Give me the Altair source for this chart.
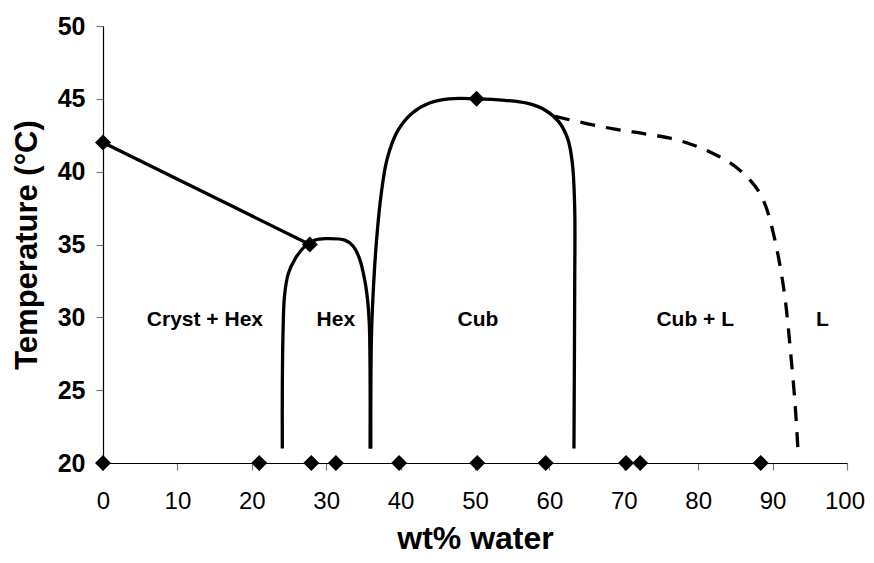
import altair as alt
import pandas as pd

# Straight boundary (Cryst + Hex upper line)
line_x = [0, 27.8]
line_y = [42, 35]

# Hex phase dome
hex_x = [24.1, 24.1, 24.2, 24.4, 24.9, 25.8, 27.0, 28.5, 30.0, 32.5, 33.6, 34.5, 35.2, 35.6, 35.8, 35.9, 35.9]
hex_y = [21.0, 25.0, 29.0, 31.5, 33.0, 34.0, 34.8, 35.3, 35.4, 35.3, 34.9, 34.0, 32.5, 31.0, 29.5, 26.0, 21.0]

# Cub phase dome
cub_x = [36.0, 36.0, 36.1, 36.4, 36.8, 37.4, 38.2, 39.6, 41.5, 43.8, 46.5, 50.2, 54.0, 57.0, 59.5, 61.3, 62.5, 63.1, 63.4, 63.4, 63.3]
cub_y = [21.0, 25.0, 29.0, 32.5, 35.5, 38.5, 40.9, 42.8, 44.0, 44.7, 45.0, 45.0, 44.9, 44.7, 44.2, 43.4, 42.2, 40.5, 37.5, 32.0, 21.0]

# Dashed liquidus boundary
liq_x = [60.75, 65.0, 69.0, 72.8, 76.2, 79.5, 82.2, 84.0, 85.6, 87.0, 88.2, 89.1, 89.8, 90.8, 91.7, 92.4, 93.0, 93.4]
liq_y = [43.8, 43.3, 42.9, 42.6, 42.3, 41.8, 41.2, 40.7, 40.1, 39.4, 38.6, 37.6, 36.4, 34.1, 31.2, 27.7, 24.2, 21.0]

# Measured points (diamonds)
pt_x = [0, 27.8, 50.2, 0, 21.0, 28.0, 31.3, 39.8, 50.3, 59.5, 70.3, 72.2, 88.4]
pt_y = [42, 35, 45, 20, 20, 20, 20, 20, 20, 20, 20, 20, 20]

# Region labels
lab_text = ["Cryst + Hex", "Hex", "Cub", "Cub + L", "L"]
lab_x = [13.7, 31.3, 50.4, 79.6, 96.7]
lab_y = [29.8, 29.8, 29.8, 29.8, 29.8]

FONT = "Liberation Sans"

def series(xs, ys):
    return pd.DataFrame({"x": xs, "y": ys, "i": list(range(len(xs)))})

xscale = alt.Scale(domain=[0, 100], nice=False, zero=False)
yscale = alt.Scale(domain=[20, 50], nice=False, zero=False)

xaxis = alt.Axis(
    values=list(range(0, 101, 10)),
    title="wt% water",
    labelFont=FONT, labelFontSize=24, labelFontWeight="normal", labelColor="black",
    labelPadding=19, labelFlush=False,
    labelOffset={"condition": {"test": "datum.value == 100", "value": -2.5}, "value": 0},
    titleFont=FONT, titleFontSize=32, titleFontWeight="bold", titleColor="black",
    titleBaseline="alphabetic", titleY=85,
)
yaxis = alt.Axis(
    values=list(range(20, 51, 5)),
    title="Temperature (°C)",
    labelFont=FONT, labelFontSize=25, labelFontWeight="bold", labelColor="black",
    labelPadding=11, labelFlush=False,
    titleFont=FONT, titleFontSize=31, titleFontWeight="bold", titleColor="black",
    titleBaseline="alphabetic", titleX=-67, titleY=218.5, titleAngle=270, titleAlign="center",
)

def curve(xs, ys, dash=None, interp="catmull-rom", axes=False):
    kw = dict(color="black", strokeWidth=3.3, interpolate=interp)
    if dash:
        kw["strokeDash"] = dash
    m = alt.Chart(series(xs, ys)).mark_line(**kw)
    if axes:
        return m.encode(
            x=alt.X("x:Q", scale=xscale, axis=xaxis),
            y=alt.Y("y:Q", scale=yscale, axis=yaxis),
            order="i:Q",
        )
    return m.encode(
        x=alt.X("x:Q", scale=xscale),
        y=alt.Y("y:Q", scale=yscale),
        order="i:Q",
    )

straight = curve(line_x, line_y, interp="linear", axes=True)
hexc = curve(hex_x, hex_y)
cubc = curve(cub_x, cub_y)
liq = curve(liq_x, liq_y, dash=[15, 11])

points = alt.Chart(pd.DataFrame({"x": pt_x, "y": pt_y})).mark_point(
    shape="diamond", filled=True, size=256, color="black", opacity=1
).encode(x=alt.X("x:Q", scale=xscale), y=alt.Y("y:Q", scale=yscale))

labels = alt.Chart(pd.DataFrame({"x": lab_x, "y": lab_y, "t": lab_text})).mark_text(
    font=FONT, fontSize=21, fontWeight="bold", color="black", baseline="middle", align="center"
).encode(x=alt.X("x:Q", scale=xscale), y=alt.Y("y:Q", scale=yscale), text="t:N")

chart = (
    alt.layer(straight, hexc, cubc, liq, points, labels)
    .properties(
        width=744, height=437,
        autosize=alt.AutoSizeParams(type="none"),
        padding={"left": 95, "top": 18, "right": 19, "bottom": 92},
        background="white",
    )
    .configure_view(stroke=None)
    .configure_axis(
        grid=False, domainColor="black", domainWidth=1.2,
        tickColor="#777777", tickSize=7, tickWidth=1.2,
    )
)

chart.save("out.html", embed_options={"renderer": "svg", "actions": False})
